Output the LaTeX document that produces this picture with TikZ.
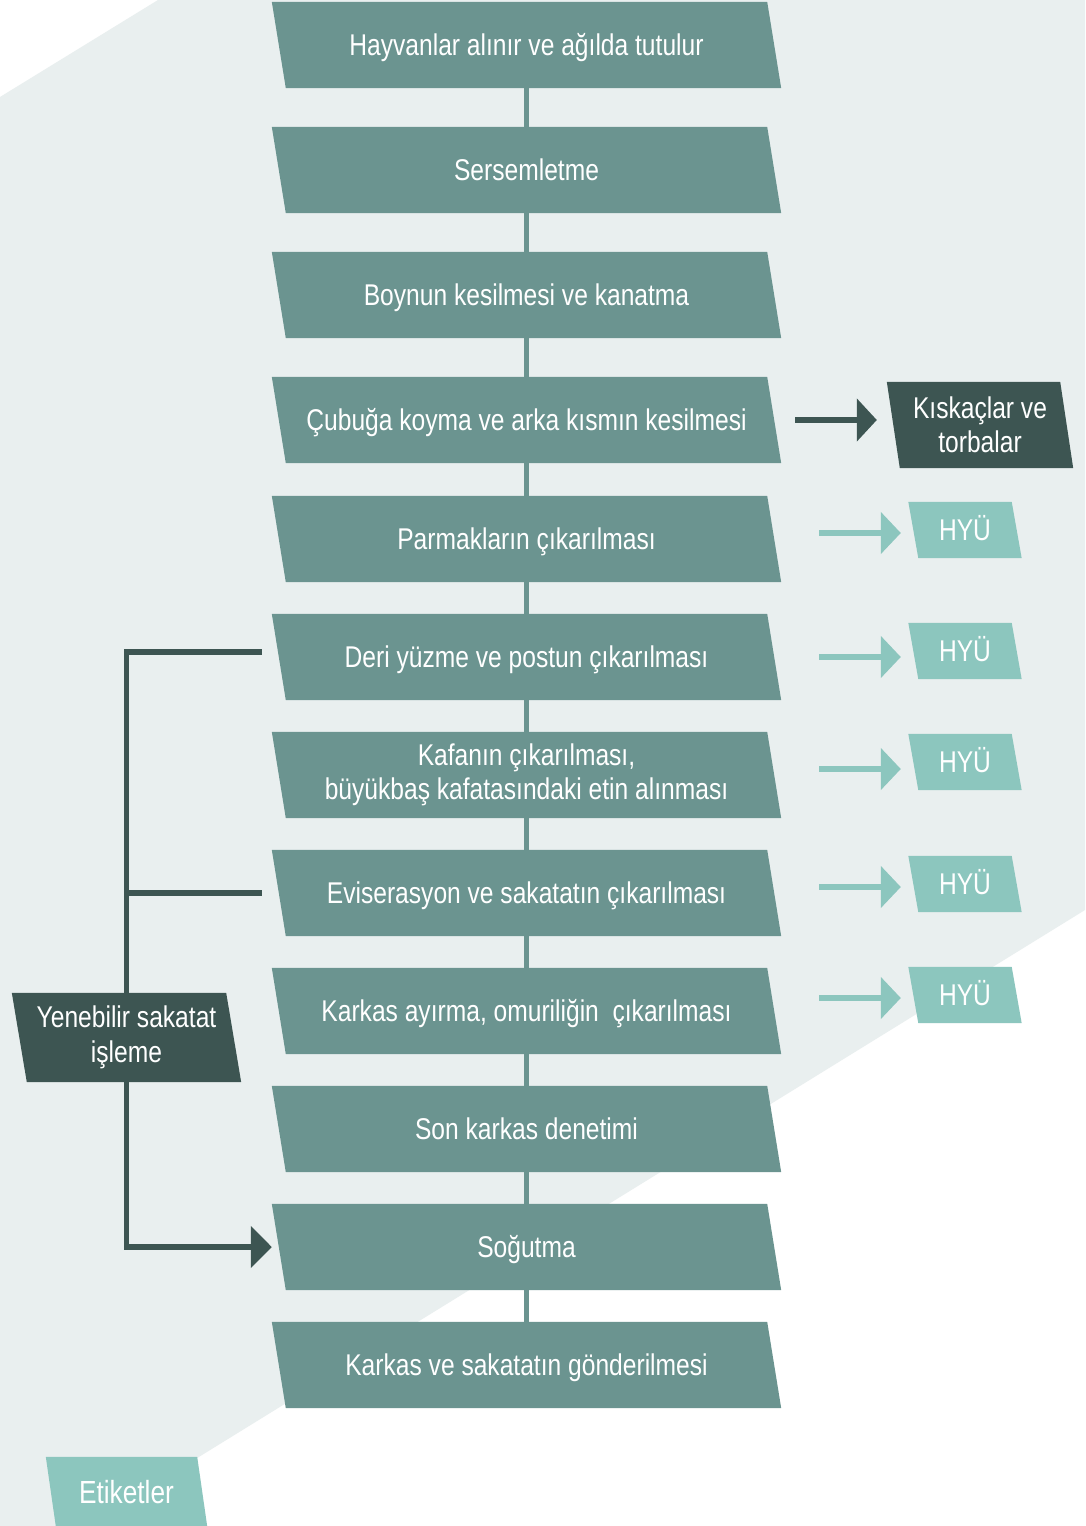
\documentclass[tikz,border=0pt]{standalone}
\usepackage{fontspec}
\setmainfont{Liberation Sans}[FakeStretch=0.82]
\usetikzlibrary{arrows.meta,calc}
\definecolor{bgc}{HTML}{E9EFEF}
\definecolor{mainc}{HTML}{6B9490}
\definecolor{darkc}{HTML}{3D5552}
\definecolor{lightc}{HTML}{8CC6BE}
\pgfdeclarelayer{back}\pgfdeclarelayer{lines}\pgfdeclarelayer{boxes}
\pgfsetlayers{back,lines,boxes,main}
\newcommand\pgram[3]{%
  \begin{pgfonlayer}{boxes}
  \fill[#2] ([xshift=-#3]#1.north west) -- ([xshift=-#3]#1.north east) -- ([xshift=#3]#1.south east) -- ([xshift=#3]#1.south west) -- cycle;
  \end{pgfonlayer}}
\begin{document}
\begin{tikzpicture}[x=1pt,y=-1pt,
  txt/.style={text=white, font=\fontsize{30}{34.5}\selectfont, align=center, inner sep=0pt},
  one/.style={text height=21.5pt, text depth=0pt},
  stepbox/.style={txt, minimum width=495pt, minimum height=86pt},
  hyubox/.style={txt, one, minimum width=103pt, minimum height=56pt},
  kbox/.style={txt, minimum width=173pt, minimum height=86pt},
  ybox/.style={txt, minimum width=214pt, minimum height=89pt},
  etbox/.style={txt, one, font=\fontsize{32}{36}\selectfont, text height=23pt, minimum width=151pt, minimum height=69pt},
  conn/.style={draw=mainc, line width=5pt},
  dline/.style={draw=darkc, line width=5.5pt},
  larrow/.style={draw=lightc, line width=5.5pt, -{Triangle[length=20pt,width=41pt]}},
  darrow/.style={draw=darkc, line width=6pt, -{Triangle[length=20pt,width=42pt]}}]
\useasboundingbox (0,0) rectangle (1085,1526);
\begin{pgfonlayer}{back}
\fill[white] (0,0) rectangle (1085,1526);
\fill[bgc] (0,97) -- (158,0) -- (1085,0) -- (1085,910) -- (87,1526) -- (0,1526) -- cycle;
\end{pgfonlayer}

\node[stepbox, one] (n1) at (526.5,45) {Hayvanlar alınır ve ağılda tutulur};
\node[stepbox, one] (n2) at (526.5,170) {Sersemletme};
\node[stepbox, one] (n3) at (526.5,295) {Boynun kesilmesi ve kanatma};
\node[stepbox, one] (n4) at (526.5,420) {Çubuğa koyma ve arka kısmın kesilmesi};
\node[stepbox, one] (n5) at (526.5,539) {Parmakların çıkarılması};
\node[stepbox, one] (n6) at (526.5,657) {Deri yüzme ve postun çıkarılması};
\node[stepbox] (n7) at (526.5,775) {Kafanın çıkarılması,\\büyükbaş kafatasındaki etin alınması};
\node[stepbox, one] (n8) at (526.5,893) {Eviserasyon ve sakatatın çıkarılması};
\node[stepbox, one] (n9) at (526.5,1011) {Karkas ayırma, omuriliğin\ \ çıkarılması};
\node[stepbox, one] (n10) at (526.5,1129) {Son karkas denetimi};
\node[stepbox, one] (n11) at (526.5,1247) {Soğutma};
\node[stepbox, one] (n12) at (526.5,1365) {Karkas ve sakatatın gönderilmesi};
\foreach \n in {n1,n2,n3,n4,n5,n6,n7,n8,n9,n10,n11,n12} {\pgram{\n}{mainc}{7pt}}

\node[kbox] (kt) at (980,425) {Kıskaçlar ve\\torbalar};
\pgram{kt}{darkc}{6.5pt}

\node[hyubox] (h1) at (965,530) {HYÜ};
\node[hyubox] (h2) at (965,651) {HYÜ};
\node[hyubox] (h3) at (965,762) {HYÜ};
\node[hyubox] (h4) at (965,884) {HYÜ};
\node[hyubox] (h5) at (965,995) {HYÜ};
\foreach \n in {h1,h2,h3,h4,h5} {\pgram{\n}{lightc}{5pt}}

\node[ybox] (yb) at (126.5,1037.5) {Yenebilir sakatat\\işleme};
\pgram{yb}{darkc}{7.5pt}

\node[etbox] (et) at (126.5,1491.5) {Etiketler};
\pgram{et}{lightc}{5pt}

\begin{pgfonlayer}{lines}
\draw[conn] (n1.south) -- (n2.north);
\draw[conn] (n2.south) -- (n3.north);
\draw[conn] (n3.south) -- (n4.north);
\draw[conn] (n4.south) -- (n5.north);
\draw[conn] (n5.south) -- (n6.north);
\draw[conn] (n6.south) -- (n7.north);
\draw[conn] (n7.south) -- (n8.north);
\draw[conn] (n8.south) -- (n9.north);
\draw[conn] (n9.south) -- (n10.north);
\draw[conn] (n10.south) -- (n11.north);
\draw[conn] (n11.south) -- (n12.north);
\draw[dline] ($(n6.west)+(-17,-5)$) -| (yb.north);
\draw[dline] ($(n8.west)+(-17,0)$) -- (n8.west -| yb.north);
\draw[dline, -{Triangle[length=21pt,width=41pt]}] (yb.south) |- ($(n11.west)+(-7,0)$);
\end{pgfonlayer}

\draw[darrow] ($(n4.east)+(21,0)$) -- ($(n4.east -| kt.west)+(-16.5,0)$);
\coordinate (s1) at (819,533);
\coordinate (s2) at (819,657);
\coordinate (s3) at (819,769);
\coordinate (s4) at (819,887);
\coordinate (s5) at (819,998);
\draw[larrow] (s1) -- ($(s1 -| h1.west)+(-12.5,0)$);
\draw[larrow] (s2) -- ($(s2 -| h2.west)+(-12.5,0)$);
\draw[larrow] (s3) -- ($(s3 -| h3.west)+(-12.5,0)$);
\draw[larrow] (s4) -- ($(s4 -| h4.west)+(-12.5,0)$);
\draw[larrow] (s5) -- ($(s5 -| h5.west)+(-12.5,0)$);
\end{tikzpicture}
\end{document}
